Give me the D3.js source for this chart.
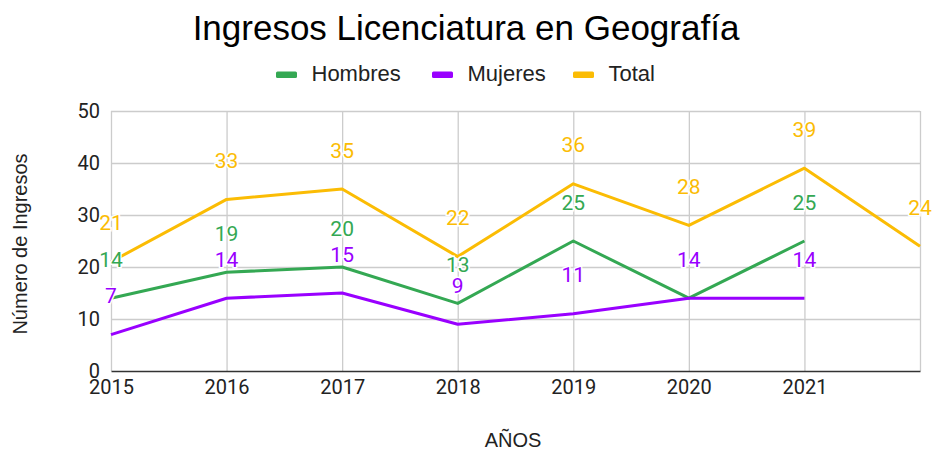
<!DOCTYPE html>
<html>
<head>
<meta charset="utf-8">
<script src="https://cdn.jsdelivr.net/npm/d3@7"></script>
<style>
	body {margin: 0; background: #fff;}
	svg {display: block;}
</style>
</head>
<body>
<div id="chart"></div>
<script>
const FRAME_WIDTH = 933;
const FRAME_HEIGHT = 452;
const MARGINS = {left: 111, right: 13, top: 111, bottom: 81};

//data
const YEARS = [2015, 2016, 2017, 2018, 2019, 2020, 2021, 2022];
const YEAR_LABELS = ["2015", "2016", "2017", "2018", "2019", "2020", "2021"];
const HOMBRES = [14, 19, 20, 13, 25, 14, 25];
const MUJERES = [7, 14, 15, 9, 11, 14, 14];
const TOTAL = [21, 33, 35, 22, 36, 28, 39, 24];
const Y_TICKS = [0, 10, 20, 30, 40, 50];

const SERIES = [
	{name: "Hombres", values: HOMBRES, color: "#34a853"},
	{name: "Mujeres", values: MUJERES, color: "#9900ff"},
	{name: "Total", values: TOTAL, color: "#fbbc04"}
];

const FRAME = d3.select("#chart")
	.append("svg")
		.attr("width", FRAME_WIDTH)
		.attr("height", FRAME_HEIGHT);

//scales
const X_SCALE = d3.scaleLinear()
	.domain([2015, 2022])
	.range([MARGINS.left, FRAME_WIDTH - MARGINS.right]);

const Y_SCALE = d3.scaleLinear()
	.domain([0, 50])
	.range([FRAME_HEIGHT - MARGINS.bottom, MARGINS.top]);

//title
FRAME.append("text")
	.attr("x", 466)
	.attr("y", 40)
	.attr("text-anchor", "middle")
	.style("font-family", "'Liberation Sans', Arial, sans-serif")
	.style("font-size", "35px")
	.attr("fill", "#000")
	.text("Ingresos Licenciatura en Geografía");

//legend
const LEGEND_X = [276, 432, 573];
SERIES.forEach((s, i) => {
	FRAME.append("rect")
		.attr("x", LEGEND_X[i])
		.attr("y", 71.5)
		.attr("width", 21)
		.attr("height", 6.5)
		.attr("rx", 1.5)
		.attr("fill", s.color);
	FRAME.append("text")
		.attr("x", LEGEND_X[i] + 35.5)
		.attr("y", 81)
		.style("font-family", "'Liberation Sans', Arial, sans-serif")
		.style("font-size", "22px")
		.attr("fill", "#222")
		.text(s.name);
});

//horizontal grid
FRAME.append("g")
	.attr("transform", "translate(" + MARGINS.left + ",0)")
	.call(d3.axisLeft(Y_SCALE)
		.tickValues(Y_TICKS.slice(1))
		.tickSize(-(FRAME_WIDTH - MARGINS.left - MARGINS.right))
		.tickFormat(""))
	.call(g => g.select(".domain").remove())
	.call(g => g.selectAll("line").attr("stroke", "#cccccc").attr("stroke-width", 1.3));

//vertical grid
FRAME.append("g")
	.attr("transform", "translate(0," + (FRAME_HEIGHT - MARGINS.bottom) + ")")
	.call(d3.axisBottom(X_SCALE)
		.tickValues(YEARS)
		.tickSize(-(FRAME_HEIGHT - MARGINS.top - MARGINS.bottom))
		.tickFormat(""))
	.call(g => g.select(".domain").remove())
	.call(g => g.selectAll("line").attr("stroke", "#cccccc").attr("stroke-width", 1.3));

//y axis labels
FRAME.append("g")
	.attr("transform", "translate(" + MARGINS.left + ",0)")
	.call(d3.axisLeft(Y_SCALE).tickValues(Y_TICKS).tickSize(0).tickPadding(11))
	.call(g => g.select(".domain").remove())
	.call(g => g.selectAll("text")
		.attr("fill", "#222")
		.style("font-family", "Roboto, sans-serif")
		.style("font-size", "20px"));

//x axis labels and baseline
FRAME.append("g")
	.attr("transform", "translate(0," + (FRAME_HEIGHT - MARGINS.bottom) + ")")
	.call(d3.axisBottom(X_SCALE)
		.tickValues(YEARS.slice(0, YEAR_LABELS.length))
		.tickFormat((d, i) => YEAR_LABELS[i])
		.tickSize(0)
		.tickPadding(9))
	.call(g => g.select(".domain").attr("stroke", "#333").attr("stroke-width", 1.5))
	.call(g => g.selectAll("text")
		.attr("fill", "#222")
		.style("font-family", "Roboto, sans-serif")
		.style("font-size", "20px"));

//axis titles
FRAME.append("text")
	.attr("transform", "translate(27,244) rotate(-90)")
	.attr("text-anchor", "middle")
	.style("font-family", "'Liberation Sans', Arial, sans-serif")
	.style("font-size", "20px")
	.attr("fill", "#222")
	.text("Número de Ingresos");

FRAME.append("text")
	.attr("x", 513)
	.attr("y", 447)
	.attr("text-anchor", "middle")
	.style("font-family", "'Liberation Sans', Arial, sans-serif")
	.style("font-size", "20px")
	.attr("fill", "#222")
	.text("AÑOS");

//lines
const LINE = d3.line()
	.x((d, i) => X_SCALE(YEARS[i]))
	.y((d) => Y_SCALE(d));

SERIES.forEach((s) => {
	FRAME.append("path")
		.datum(s.values)
		.attr("d", LINE)
		.attr("fill", "none")
		.attr("stroke", s.color)
		.attr("stroke-width", 3)
		.attr("stroke-linejoin", "round");
});

//data labels, drawn after every line so the halos sit on top
SERIES.forEach((s) => {
	FRAME.append("g")
		.selectAll("text")
		.data(s.values)
		.enter()
		.append("text")
			.attr("x", (d, i) => X_SCALE(YEARS[i]))
			.attr("y", (d) => Y_SCALE(d) - 31.5)
			.attr("text-anchor", "middle")
			.style("font-family", "Roboto, sans-serif")
			.style("font-size", "21px")
			.attr("fill", s.color)
			.attr("stroke", "#fff")
			.attr("stroke-width", 3)
			.attr("paint-order", "stroke")
			.text((d) => d);
});
</script>
</body>
</html>
